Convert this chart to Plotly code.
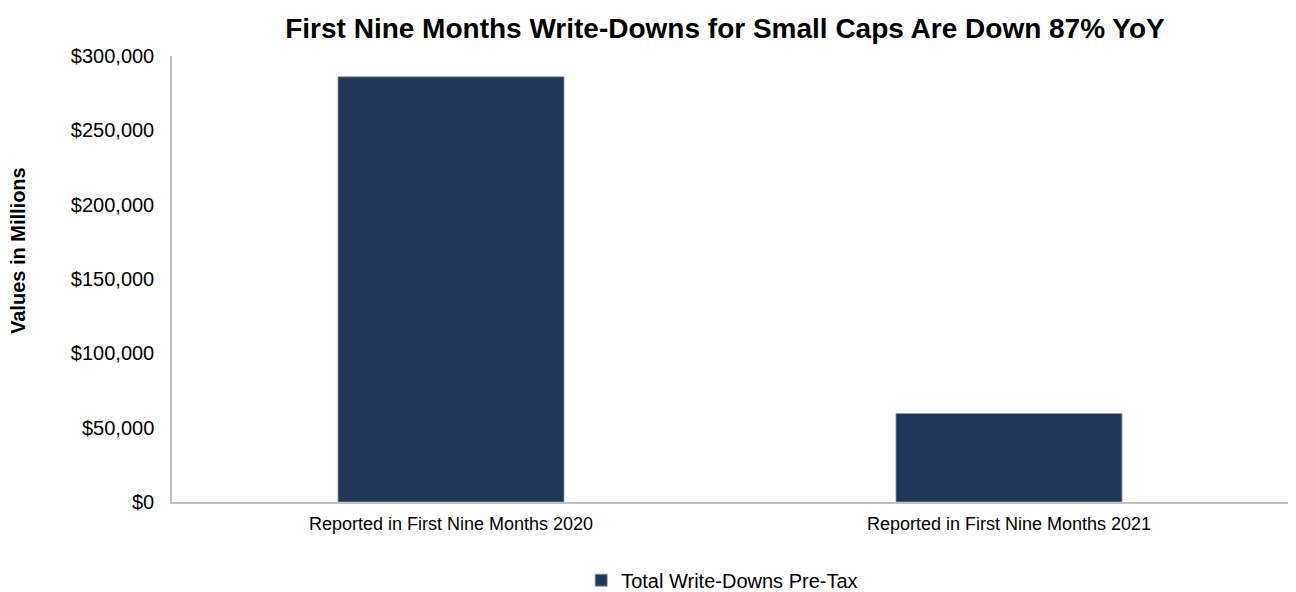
import plotly.graph_objects as go

# Write-down totals (USD millions)
categories = ["Reported in First Nine Months 2020", "Reported in First Nine Months 2021"]
write_downs = [286000, 59500]
series_name = "Total Write-Downs Pre-Tax"
tick_vals = [0, 50000, 100000, 150000, 200000, 250000, 300000]

NAVY = "#1f3759"
FONT = "Liberation Sans, Arial, sans-serif"

fig = go.Figure(
    go.Bar(
        x=categories,
        y=write_downs,
        name=series_name,
        marker=dict(color=NAVY, line=dict(color="#8795ab", width=0.8)),
        width=0.405,
        showlegend=True,
    )
)

fig.update_layout(
    width=1296,
    height=592,
    margin=dict(l=172, r=8, t=56, b=90, autoexpand=False),
    paper_bgcolor="white",
    plot_bgcolor="white",
    font=dict(family=FONT, color="#000000", size=18),
    title=dict(
        text="<b>First Nine Months Write-Downs for Small Caps Are Down 87% YoY</b>",
        font=dict(family=FONT, size=28, color="#000000"),
        x=0.5594, xanchor="center", y=0.953, yanchor="middle",
    ),
    showlegend=True,
    legend=dict(
        orientation="h", xref="paper", x=0.493, xanchor="center",
        yref="container", y=0.02, yanchor="middle",
        font=dict(family=FONT, size=20), itemwidth=30,
    ),
    bargap=0.6,
    annotations=[
        dict(
            text="<b>Values in Millions</b>",
            xref="paper", yref="paper", x=-0.138, y=0.565,
            xanchor="center", yanchor="middle", textangle=-90,
            showarrow=False, font=dict(family=FONT, size=20, color="#000000"),
        )
    ],
)

fig.update_yaxes(
    range=[0, 300000],
    tickvals=tick_vals,
    tickformat="$,.0f",
    showgrid=False,
    showline=True,
    linecolor="#bfbfbf",
    linewidth=1.5,
    ticks="outside",
    ticklen=12,
    tickcolor="rgba(0,0,0,0)",
    zeroline=False,
    tickfont=dict(family=FONT, size=20),
)
fig.update_xaxes(
    showgrid=False,
    showline=True,
    linecolor="#bfbfbf",
    linewidth=1.5,
    ticks="outside",
    ticklen=5,
    tickcolor="rgba(0,0,0,0)",
    tickfont=dict(family=FONT, size=18),
)

fig.write_html("out.html")
